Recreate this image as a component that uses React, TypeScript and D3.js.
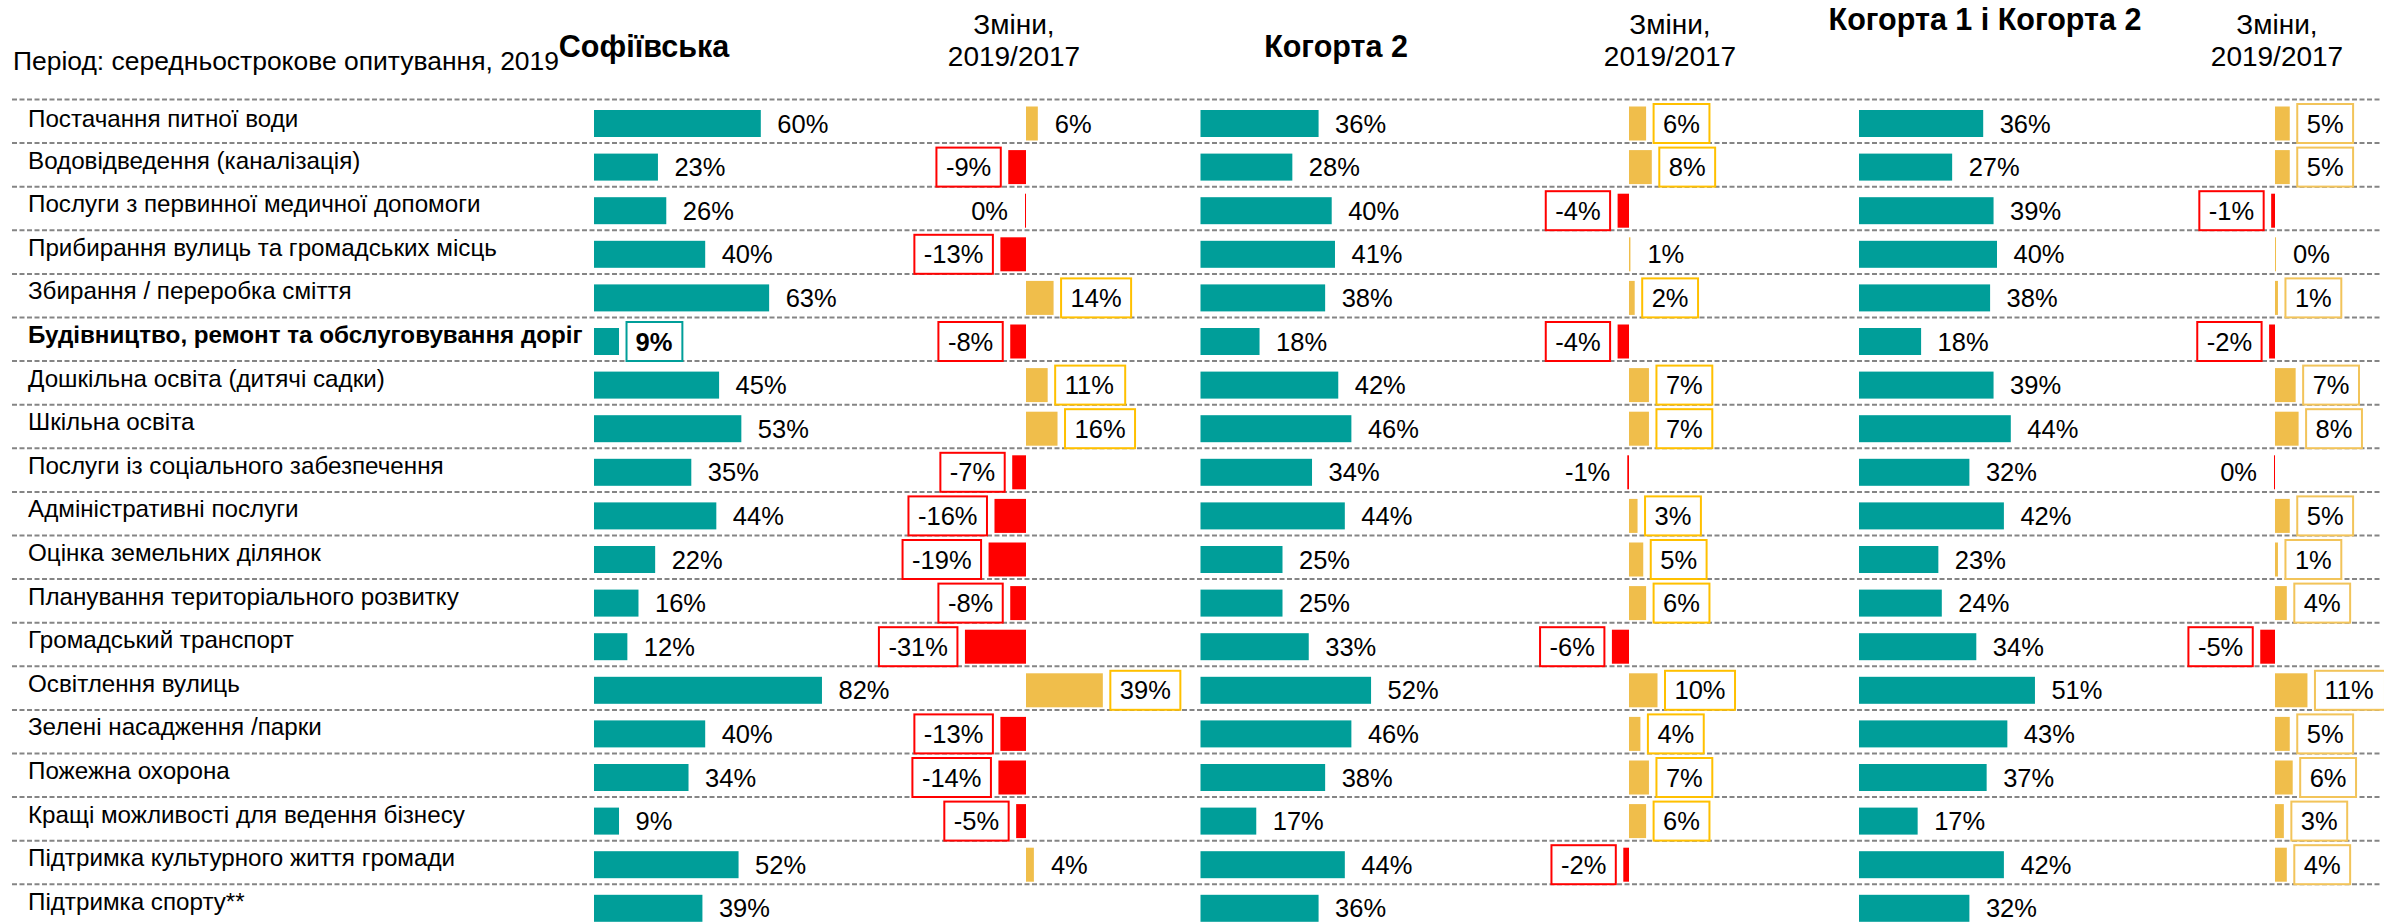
import React from 'react';
import * as d3 from 'd3';

const categories = [
  'Постачання питної води',
  'Водовідведення (каналізація)',
  'Послуги з первинної медичної допомоги',
  'Прибирання вулиць та громадських місць',
  'Збирання / переробка сміття',
  'Будівництво, ремонт та обслуговування доріг',
  'Дошкільна освіта (дитячі садки)',
  'Шкільна освіта',
  'Послуги із соціального забезпечення',
  'Адміністративні послуги',
  'Оцінка земельних ділянок',
  'Планування територіального розвитку',
  'Громадський транспорт',
  'Освітлення вулиць',
  'Зелені насадження /парки',
  'Пожежна охорона',
  'Кращі можливості для ведення бізнесу',
  'Підтримка культурного життя громади',
  'Підтримка спорту**',
];
const highlightedCategory = 'Будівництво, ремонт та обслуговування доріг';

const periodLabel = 'Період: середньострокове опитування, 2019';
const changeHeader = ['Зміни,', '2019/2017'];
const columnTitles = ['Софіївська', 'Когорта 2', 'Когорта 1 і Когорта 2'];

const sofiivskaValues = [60, 23, 26, 40, 63, 9, 45, 53, 35, 44, 22, 16, 12, 82, 40, 34, 9, 52, 39];
const sofiivskaChanges = [6, -9, -0.2, -13, 14, -8, 11, 16, -7, -16, -19, -8, -31, 39, -13, -14, -5, 4, null];
const sofiivskaSignificant = [false, true, false, true, true, true, true, true, true, true, true, true, true, true, true, true, true, false, false];

const cohort2Values = [36, 28, 40, 41, 38, 18, 42, 46, 34, 44, 25, 25, 33, 52, 46, 38, 17, 44, 36];
const cohort2Changes = [6, 8, -4, 0.5, 2, -4, 7, 7, -0.6, 3, 5, 6, -6, 10, 4, 7, 6, -2, null];
const cohort2Significant = [true, true, true, false, true, true, true, true, false, true, true, true, true, true, true, true, true, true, false];

const cohort12Values = [36, 27, 39, 40, 38, 18, 39, 44, 32, 42, 23, 24, 34, 51, 43, 37, 17, 42, 32];
const cohort12Changes = [5, 5, -1.3, 0.2, 1, -2, 7, 8, -0.2, 5, 1, 4, -5, 11, 5, 6, 3, 4, null];
const cohort12Significant = [true, true, true, false, true, true, true, true, false, true, true, true, true, true, true, true, true, true, false];

const TEAL = '#009E99';
const GOLD = '#F0BE4B';
const RED = '#FF0000';
const FONT = '"Liberation Sans", Arial, sans-serif';

const W = 2384;
const H = 924;

const CW: Record<string, number> = {
  '0': 0.556, '1': 0.556, '2': 0.556, '3': 0.556, '4': 0.556, '5': 0.556,
  '6': 0.556, '7': 0.556, '8': 0.556, '9': 0.556, '%': 0.889, '-': 0.333,
};
const textW = (s: string, fs: number) =>
  s.split('').reduce((a, c) => a + (CW[c] ?? 0.556), 0) * fs;

const fmt = (v: number) => `${Math.round(v)}%`;

type Col = {
  title: string;
  titleX: number;
  titleY: number;
  values: number[];
  changes: (number | null)[];
  sig: boolean[];
  x0: number;
  k: number;
  axis: number;
  ck: number;
  headX: number;
  posBox: string;
};

const columns: Col[] = [
  { title: columnTitles[0], titleX: 644, titleY: 57, values: sofiivskaValues, changes: sofiivskaChanges, sig: sofiivskaSignificant, x0: 594, k: 2.78, axis: 1026, ck: 1.97, headX: 1014, posBox: '#FFC000' },
  { title: columnTitles[1], titleX: 1336, titleY: 57, values: cohort2Values, changes: cohort2Changes, sig: cohort2Significant, x0: 1200.5, k: 3.28, axis: 1629, ck: 2.85, headX: 1670, posBox: '#FFC000' },
  { title: columnTitles[2], titleX: 1985, titleY: 30, values: cohort12Values, changes: cohort12Changes, sig: cohort12Significant, x0: 1859, k: 3.45, axis: 2275, ck: 2.95, headX: 2277, posBox: '#F2C45A' },
];

export default function App() {
  const step = 43.6;
  const top = 99.5;
  const y = d3
    .scaleBand<string>()
    .domain(categories)
    .range([top, top + step * categories.length])
    .paddingInner(0)
    .paddingOuter(0);

  const VFS = 25.5;
  const LFS = 24.2;

  return (
    <svg
      width={W}
      height={H}
      viewBox={`0 0 ${W} ${H}`}
      style={{ position: 'absolute', left: 0, top: 0, background: '#fff' }}
      fontFamily={FONT}
    >
      <rect x={0} y={0} width={W} height={H} fill="#fff" />
      <text x={13} y={70} fontSize={25.5} fill="#000" textLength={546} lengthAdjust="spacingAndGlyphs">
        {periodLabel}
      </text>

      {columns.map((c, ci) => (
        <g key={'h' + ci}>
          <text x={c.titleX} y={c.titleY} fontSize={30.5} fontWeight="bold" textAnchor="middle" fill="#000">
            {c.title}
          </text>
          <text x={c.headX} y={34} fontSize={28} textAnchor="middle" fill="#000">{changeHeader[0]}</text>
          <text x={c.headX} y={66} fontSize={28} textAnchor="middle" fill="#000">{changeHeader[1]}</text>
        </g>
      ))}

      {categories.map((cat) => (
        <line
          key={'l' + cat}
          x1={12}
          x2={2380}
          y1={y(cat)!}
          y2={y(cat)!}
          stroke="#858585"
          strokeWidth={2}
          strokeDasharray="5,2.5"
        />
      ))}

      {categories.map((cat, i) => (
        <text
          key={'t' + cat}
          x={28}
          y={y(cat)! + (i === 0 ? 27.5 : 25.5)}
          fontSize={LFS}
          fontWeight={cat === highlightedCategory ? 'bold' : 'normal'}
          fill="#000"
        >
          {cat}
        </text>
      ))}

      {columns.map((c, ci) => {
        const xm = d3.scaleLinear().domain([0, 100]).range([c.x0, c.x0 + 100 * c.k]);
        const xc = d3.scaleLinear().domain([-50, 50]).range([c.axis - 50 * c.ck, c.axis + 50 * c.ck]);
        return (
          <g key={'c' + ci}>
            {categories.map((cat, i) => {
              const rowY = y(cat)!;
              const cy = rowY + 24;
              const v = c.values[i];
              const ch = c.changes[i];
              const end = xm(v);
              const highlight = ci === 0 && cat === highlightedCategory;
              const vLabel = fmt(v);
              const vw = textW(vLabel, VFS);
              const els: React.ReactNode[] = [];
              els.push(
                <rect key="b" x={xm(0)} y={cy - 13.5} width={end - xm(0)} height={27} fill={TEAL} />
              );
              if (highlight) {
                els.push(
                  <rect key="hb" x={end + 7.5} y={cy - 19.5} width={vw + 19} height={39} fill="#fff" stroke={TEAL} strokeWidth={2} />
                );
              }
              els.push(
                <text key="bt" x={end + 16.5} y={cy + 9} fontSize={VFS} fontWeight={highlight ? 'bold' : 'normal'} fill="#000">
                  {vLabel}
                </text>
              );
              if (ch !== null && ch !== undefined) {
                const neg = ch < 0;
                const a = xc(Math.min(0, ch));
                const b = xc(Math.max(0, ch));
                let bw = b - a;
                let bx = a;
                if (bw < 1) {
                  bw = 1;
                  bx = neg ? xc(0) - 1 : xc(0);
                }
                els.push(
                  <rect key="cb" x={bx} y={cy - 17} width={bw} height={34} fill={neg ? RED : GOLD} />
                );
                const lab = fmt(ch);
                const tw = textW(lab, VFS);
                const tStart = neg ? bx - 17 - tw : bx + bw + 17;
                if (c.sig[i]) {
                  els.push(
                    <rect
                      key="cbox"
                      x={tStart - 9.5}
                      y={cy - 19.5}
                      width={tw + 19}
                      height={39}
                      fill="#fff"
                      stroke={neg ? RED : c.posBox}
                      strokeWidth={2}
                    />
                  );
                }
                els.push(
                  <text key="ct" x={tStart} y={cy + 9} fontSize={VFS} fill="#000">
                    {lab}
                  </text>
                );
              }
              return <g key={cat}>{els}</g>;
            })}
          </g>
        );
      })}
    </svg>
  );
}
